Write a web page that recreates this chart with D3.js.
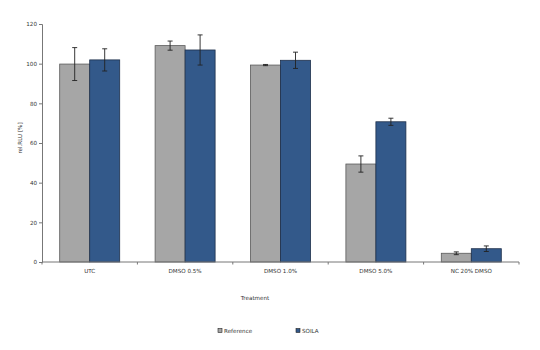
<!DOCTYPE html>
<html><head><meta charset="utf-8">
<script src="https://cdn.jsdelivr.net/npm/d3@7"></script>
<style>body{margin:0;background:#fff}svg{display:block}text{font-family:"DejaVu Sans",Verdana,sans-serif;fill:#333}</style>
</head><body><svg id="c" width="540" height="350"></svg>
<script>
const categories = ["UTC","DMSO 0.5%","DMSO 1.0%","DMSO 5.0%","NC 20% DMSO"];
const seriesNames = ["Reference","SOILA"];
const referenceValues = [99.8, 109.1, 99.3, 49.4, 4.4];
const referenceErrors = [8.3, 2.3, 0.3, 4.1, 0.7];
const soilaValues = [101.9, 106.9, 101.7, 70.7, 6.7];
const soilaErrors = [5.6, 7.6, 4.1, 1.8, 1.4];
const yTicks = [0,20,40,60,80,100,120];
const colors = ["#a6a6a6","#33598a"];
const strokes = ["#5a5a5a","#1d2f4a"];

const svg = d3.select("#c");
const m = {l:42, r:21, t:24, b:88};
const W = 540, H = 350;
const x = d3.scaleBand().domain(categories).range([m.l, W-m.r]).paddingInner(0).paddingOuter(0);
const x1 = d3.scaleBand().domain(seriesNames).range([0, 60]);
const y = d3.scaleLinear().domain([0,120]).range([H-m.b, m.t]);
const off = (x.bandwidth()-60)/2;

const data = categories.map((c,i)=>({c, vals:[
  {s:"Reference", v:referenceValues[i], e:referenceErrors[i], k:0},
  {s:"SOILA", v:soilaValues[i], e:soilaErrors[i], k:1}]}));

const g = svg.append("g");
const grp = g.selectAll("g.grp").data(data).join("g")
  .attr("transform", d=>`translate(${x(d.c)+off},0)`);
grp.selectAll("rect").data(d=>d.vals).join("rect")
  .attr("x", d=>x1(d.s)).attr("width", x1.bandwidth())
  .attr("y", d=>y(d.v)).attr("height", d=>y(0)-y(d.v))
  .attr("fill", d=>colors[d.k]).attr("stroke", d=>strokes[d.k]).attr("stroke-width",0.8);
const eb = grp.selectAll("g.eb").data(d=>d.vals).join("g")
  .attr("transform", d=>`translate(${x1(d.s)+x1.bandwidth()/2},0)`)
  .attr("stroke","#222").attr("stroke-width",0.9);
eb.append("line").attr("y1",d=>y(d.v+d.e)).attr("y2",d=>y(d.v-d.e));
eb.append("line").attr("x1",-2.5).attr("x2",2.5).attr("y1",d=>y(d.v+d.e)).attr("y2",d=>y(d.v+d.e));
eb.append("line").attr("x1",-2.5).attr("x2",2.5).attr("y1",d=>y(d.v-d.e)).attr("y2",d=>y(d.v-d.e));

// y axis
const ya = svg.append("g").attr("transform",`translate(${m.l},0)`)
  .call(d3.axisLeft(y).tickValues(yTicks).tickSize(3).tickPadding(2));
ya.select(".domain").attr("stroke","#777");
ya.selectAll(".tick line").attr("stroke","#777");
ya.selectAll("text").attr("font-size",5.6).attr("fill","#333");

// x axis
const xa = svg.append("g").attr("transform",`translate(0,${y(0)})`);
xa.append("line").attr("x1",m.l).attr("x2",W-m.r).attr("stroke","#777");
const bounds = categories.map(c=>x(c)).concat([x(categories[categories.length-1])+x.bandwidth()]);
xa.selectAll("line.t").data(bounds).join("line").attr("class","t")
  .attr("x1",d=>d).attr("x2",d=>d).attr("y1",0).attr("y2",2.5).attr("stroke","#777");
xa.selectAll("text").data(categories).join("text")
  .attr("x",d=>x(d)+x.bandwidth()/2).attr("y",10.5).attr("text-anchor","middle")
  .attr("font-size",5.6).text(d=>d);

// titles
svg.append("text").attr("x",255).attr("y",299.5).attr("text-anchor","middle").attr("font-size",5.6).text("Treatment");
svg.append("text").attr("transform","translate(22,138) rotate(-90)").attr("text-anchor","middle").attr("font-size",5.6).text("rel.RLU [%]");

// legend
const legX = [218, 296];
const lg = svg.selectAll("g.leg").data(seriesNames).join("g")
  .attr("transform",(d,i)=>`translate(${legX[i]},328.5)`);
lg.append("rect").attr("width",4).attr("height",4).attr("fill",(d,i)=>colors[i]).attr("stroke","#222").attr("stroke-width",0.6);
lg.append("text").attr("x",6).attr("y",4).attr("font-size",5.6).text(d=>d);
</script></body></html>
